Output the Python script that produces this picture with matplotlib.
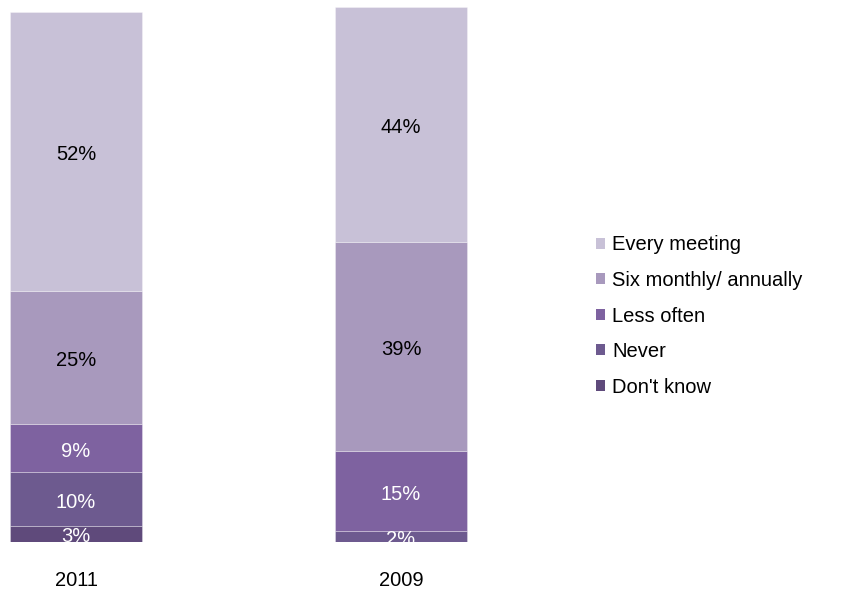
import numpy as np
import matplotlib
matplotlib.use('Agg')
import matplotlib.pyplot as plt
import matplotlib.transforms as mtransforms
from matplotlib.patches import Patch

plt.rcParams['font.family'] = ['Liberation Sans', 'DejaVu Sans']

years = ['2011', '2009']
categories = ['Every meeting', 'Six monthly/ annually', 'Less often', 'Never', "Don't know"]
colors = ['#c8c1d7', '#a899bd', '#7e62a0', '#6d5a8f', '#5f4a7b']
text_colors = ['black', 'black', 'white', 'white', 'white']

# stacked from the bottom: don't know, never, less often, six monthly, every meeting
dont_know = [3, 0]
never = [10, 2]
less_often = [9, 15]
six_monthly = [25, 39]
every_meeting = [52, 44]

stack = [every_meeting, six_monthly, less_often, never, dont_know]

fig = plt.figure(figsize=(8.46, 5.92), dpi=100)
ax = fig.add_axes([0.0, 50 / 592, 520 / 846, 535 / 592])

# labels sit a touch below the segment middle
lbl_shift = mtransforms.offset_copy(ax.transData, fig=fig, x=0, y=-3, units='dots')

x = np.arange(len(years))
width = 0.406
bottom = np.zeros(len(years))
for i in range(len(stack) - 1, -1, -1):
    vals = np.array(stack[i], dtype=float)
    ax.bar(x, vals, width, bottom=bottom, color=colors[i],
           edgecolor=(1, 1, 1, 0.35), linewidth=0.6)
    for j in range(len(years)):
        if vals[j] > 0:
            ax.text(x[j], bottom[j] + vals[j] / 2, '{:.0f}%'.format(vals[j]),
                    ha='center', va='center', fontsize=14.5,
                    color=text_colors[i], clip_on=True, transform=lbl_shift)
    bottom += vals

ax.set_xlim(-76 / 325, 444 / 325)
ax.set_ylim(0, 100)
ax.axis('off')

for j, yr in enumerate(years):
    fig.text(ax.transData.transform((x[j], 0))[0] / fig.dpi / 8.46, 11 / 592, yr,
             ha='center', va='center', fontsize=14.5)

handles = [Patch(facecolor=c, edgecolor='none') for c in colors]
fig.legend(handles, categories, loc='center left', bbox_to_anchor=(596 / 846, 1 - 316 / 592),
           frameon=False, fontsize=14.5, handlelength=0.45, handleheight=0.45,
           handletextpad=0.35, labelspacing=0.82, borderaxespad=0, borderpad=0)

fig.savefig('out.png', dpi=100)
